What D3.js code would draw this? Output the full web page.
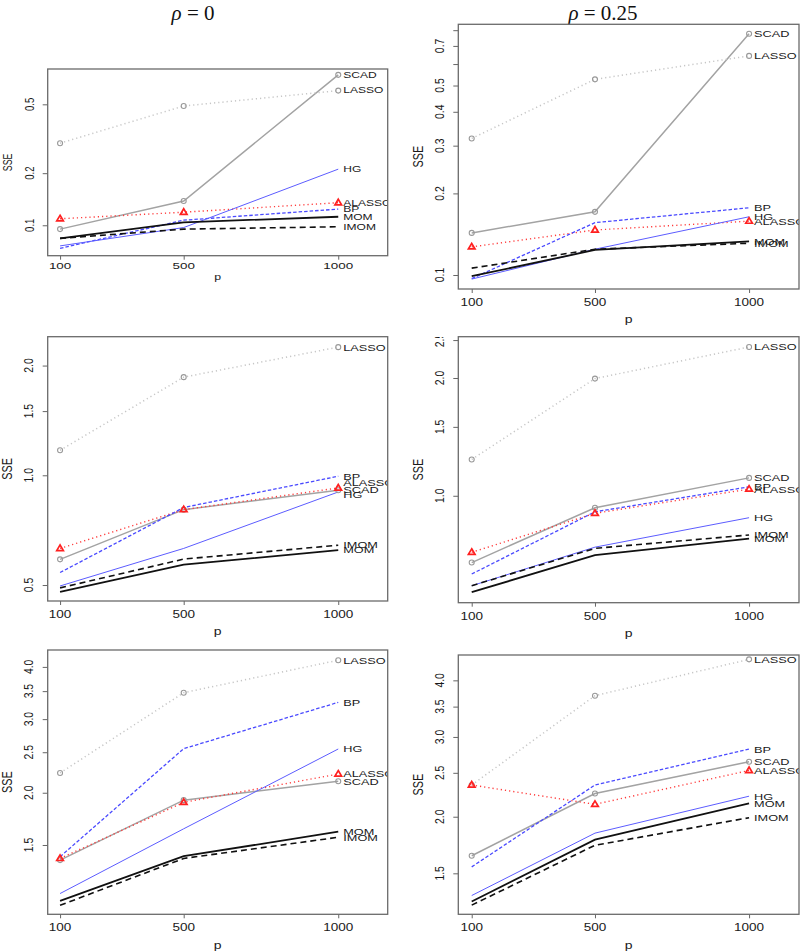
<!DOCTYPE html>
<html><head><meta charset="utf-8">
<script src="https://cdn.jsdelivr.net/npm/d3@7"></script>
<style>body{margin:0;background:#fff}</style>
</head><body><svg id="c" width="800" height="951"></svg>
<script>
// ---------- data ----------
const methods = ["SCAD","LASSO","ALASSO","BP","HG","MOM","IMOM"];
const pValues = [100, 500, 1000];
const columnRho = ["0", "0.25"];
// SSE values, one inner array per method (order of `methods`), for p = 100, 500, 1000
const sseRow1Rho0   = [[0.095,0.138,0.74],[0.298,0.489,0.60],[0.109,0.119,0.135],[0.0736,0.107,0.124],[0.076,0.097,0.211],[0.084,0.104,0.112],[0.084,0.095,0.098]];
const sseRow1Rho025 = [[0.143,0.171,0.776],[0.319,0.527,0.643],[0.127,0.1466,0.158],[0.097,0.156,0.177],[0.0966,0.1245,0.164],[0.099,0.1237,0.133],[0.106,0.1245,0.131]];
const sseRow2Rho0   = [[0.588,0.805,0.910],[1.171,1.859,2.247],[0.630,0.805,0.923],[0.541,0.816,0.994],[0.497,0.630,0.900],[0.479,0.569,0.623],[0.491,0.589,0.643]];
const sseRow2Rho025 = [[0.675,0.932,1.111],[1.238,1.993,2.40],[0.717,0.902,1.040],[0.631,0.910,1.054],[0.589,0.739,0.879],[0.567,0.705,0.777],[0.589,0.734,0.794]];
const sseRow3Rho0   = [[1.38,1.92,2.13],[2.23,3.47,4.15],[1.393,1.897,2.217],[1.406,2.55,3.29],[1.148,1.64,2.545],[1.103,1.41,1.614],[1.076,1.393,1.565]];
const sseRow3Rho025 = [[1.64,2.25,2.645],[2.35,3.70,4.45],[2.35,2.13,2.53],[1.55,2.35,2.82],[1.34,1.84,2.22],[1.30,1.78,2.14],[1.276,1.73,1.99]];
// label heights (data units) where they differ from the last value
const labelRow2Rho0 = [0.914,2.247,0.955,0.994,0.887,0.626,0.647];
// y-axis ticks and labels
const yTicksRow1Rho0   = [0.1,0.2,0.5];
const yLabelsRow1Rho0  = ["0.1","0.2","0.5"];
const yTicksRow1Rho025 = [0.1,0.2,0.3,0.4,0.5,0.6,0.7,0.8];
const yLabelsRow1Rho025= ["0.1","0.2","0.3","0.4","0.5","","0.7",""];
const yTicksRow2Rho0   = [0.5,1.0,1.5,2.0];
const yLabelsRow2Rho0  = ["0.5","1.0","1.5","2.0"];
const yTicksRow2Rho025 = [1.0,1.5,2.0,2.5];
const yLabelsRow2Rho025= ["1.0","1.5","2.0","2.5"];
const yTicksRow3       = [1.5,2.0,2.5,3.0,3.5,4.0];
const yLabelsRow3      = ["1.5","2.0","2.5","3.0","3.5","4.0"];
const xTickLabels = ["100","500","1000"];

// ---------- styles ----------
const style = {
  SCAD:  {c:"#a3a3a3", w:1.5, d:null,    m:"circle"},
  LASSO: {c:"#c6c6c6", w:1.5, d:"1.2,3", m:"circle"},
  ALASSO:{c:"#ff3b3b", w:1.4, d:"1.2,3", m:"tri"},
  BP:    {c:"#4a4aff", w:1.3, d:"3.5,2", m:null},
  HG:    {c:"#5c5cff", w:1.0, d:null,    m:null},
  MOM:   {c:"#111111", w:1.8, d:null,    m:null},
  IMOM:  {c:"#111111", w:1.6, d:"6,4",   m:null}
};
const font = "'Liberation Sans', Arial, Helvetica, sans-serif";

const panels = [
  {data:sseRow1Rho0,   lab:null,          box:[47.7,69,387.7,255.7],  xd:[60,1160],    yd:[0.0667,0.80], yt:yTicksRow1Rho0,   yl:yLabelsRow1Rho0,   k:1.4, fl:8.6, ft:9.6, fs:8.8, xo:10, po:21, clipTop:null},
  {data:sseRow1Rho025, lab:null,          box:[458.3,24.3,799,289],   xd:[56.5,1162],  yd:[0.0888,0.841],yt:yTicksRow1Rho025, yl:yLabelsRow1Rho025, k:1.3, fl:9.8, ft:10.4,fs:10.8,xo:14, po:31, clipTop:null},
  {data:sseRow2Rho0,   lab:labelRow2Rho0, box:[47.7,336.7,387.7,601], xd:[60,1160],    yd:[0.452,2.40],  yt:yTicksRow2Rho0,   yl:yLabelsRow2Rho0,   k:1.3, fl:9.8, ft:10.4,fs:10.8,xo:14, po:31, clipTop:null},
  {data:sseRow2Rho025, lab:null,          box:[458.3,336.7,799,602.7],xd:[56.5,1162],  yd:[0.533,2.55],  yt:yTicksRow2Rho025, yl:yLabelsRow2Rho025, k:1.3, fl:9.8, ft:10.4,fs:10.8,xo:14, po:31, clipTop:337},
  {data:sseRow3Rho0,   lab:null,          box:[47.7,650,387.7,914.3], xd:[60,1160],    yd:[1.024,4.39],  yt:yTicksRow3,       yl:yLabelsRow3,       k:1.3, fl:9.8, ft:10.4,fs:10.8,xo:13, po:31, clipTop:null},
  {data:sseRow3Rho025, lab:null,          box:[458.3,655,799,914.3],  xd:[56.5,1162],  yd:[1.218,4.55],  yt:yTicksRow3,       yl:yLabelsRow3,       k:1.3, fl:9.8, ft:10.4,fs:10.8,xo:13, po:31, clipTop:null}
];

const svg = d3.select("#c");
svg.append("rect").attr("width",800).attr("height",951).attr("fill","#fff");

// titles
[193, 603].forEach((cx,i)=>{
  const t = svg.append("text").attr("x",cx).attr("y",20).attr("text-anchor","middle")
    .attr("font-family","'Liberation Serif','DejaVu Serif',serif").attr("font-size",21).attr("fill","#111");
  t.append("tspan").attr("font-style","italic").text("ρ");
  t.append("tspan").text(" = " + columnRho[i]);
});

function hText(g, x, y, str, size, k, anchor){
  return g.append("text").attr("transform",`translate(${x},${y}) scale(${k},1)`)
    .attr("text-anchor",anchor).attr("dominant-baseline","central")
    .attr("font-family",font).attr("font-size",size).attr("fill","#1a1a1a").text(str);
}
function vText(g, x, y, str, size, k){
  return g.append("text").attr("transform",`translate(${x},${y}) rotate(-90) scale(1,${k})`)
    .attr("text-anchor","middle").attr("dominant-baseline","central")
    .attr("font-family",font).attr("font-size",size).attr("fill","#1a1a1a").text(str);
}

panels.forEach((P, pi)=>{
  const [x0,y0,x1,y1] = P.box;
  const x = d3.scaleLinear().domain(P.xd).range([x0,x1]);
  const y = d3.scaleLog().domain(P.yd).range([y1,y0]);
  const g = svg.append("g");
  const cid = "clip"+pi;
  svg.append("clipPath").attr("id",cid).append("rect")
    .attr("x",x0).attr("y",y0).attr("width",x1-x0).attr("height",y1-y0);
  let tg = g;
  if (P.clipTop !== null){
    svg.append("clipPath").attr("id","tc"+pi).append("rect")
      .attr("x",x0-60).attr("y",P.clipTop).attr("width",x1-x0+60).attr("height",y1-P.clipTop+60);
    tg = g.append("g").attr("clip-path",`url(#tc${pi})`);
  }

  // axes (tick marks via d3 axes; labels drawn stretched like the reference)
  const yAxis = d3.axisLeft(y).tickValues(P.yt).tickSize(5).tickFormat("");
  const ya = g.append("g").attr("transform",`translate(${x0},0)`).call(yAxis);
  const xAxis = d3.axisBottom(x).tickValues(pValues).tickSize(4).tickFormat("");
  const xa = g.append("g").attr("transform",`translate(0,${y1})`).call(xAxis);
  [ya,xa].forEach(a=>{ a.select(".domain").remove(); a.selectAll("line").attr("stroke","#666").attr("stroke-width",1); });

  P.yt.forEach((v,i)=>{ if (P.yl[i]) vText(tg, x0-19, y(v), P.yl[i], P.ft, P.k); });
  pValues.forEach((v,i)=> hText(g, x(v), y1+P.xo, xTickLabels[i], P.ft, P.k, "middle"));
  hText(g, (x0+x1)/2, y1+P.po, "p", P.fs, P.k, "middle");
  vText(g, x0-40, (y0+y1)/2, "SSE", P.fs, P.k);

  // series
  const plot = g.append("g").attr("clip-path",`url(#${cid})`);
  const line = d3.line().x((d,i)=>x(pValues[i])).y(d=>y(d));
  methods.forEach((m, mi)=>{
    const s = style[m];
    plot.append("path").attr("d", line(P.data[mi])).attr("fill","none")
      .attr("stroke", s.c).attr("stroke-width", s.w).attr("stroke-dasharray", s.d);
  });
  methods.forEach((m, mi)=>{
    const s = style[m];
    P.data[mi].forEach((v,i)=>{
      const cx = x(pValues[i]), cy = y(v);
      if (s.m === "circle"){
        plot.append("circle").attr("cx",cx).attr("cy",cy).attr("r",2.5)
          .attr("fill","none").attr("stroke","#999").attr("stroke-width",1.1);
      } else if (s.m === "tri"){
        const r = 3.5;
        plot.append("path").attr("d",`M${cx},${cy-r}L${cx+r*0.95},${cy+r*0.6}L${cx-r*0.95},${cy+r*0.6}Z`)
          .attr("fill","none").attr("stroke","#ff2020").attr("stroke-width",1.7);
      }
    });
    const ly = P.lab ? P.lab[mi] : P.data[mi][2];
    hText(plot, x(1000)+5, y(ly), m, P.fl, P.k, "start");
  });

  g.append("rect").attr("x",x0).attr("y",y0).attr("width",x1-x0).attr("height",y1-y0)
    .attr("fill","none").attr("stroke","#6a6a6a").attr("stroke-width",1.3);
});
</script></body></html>
